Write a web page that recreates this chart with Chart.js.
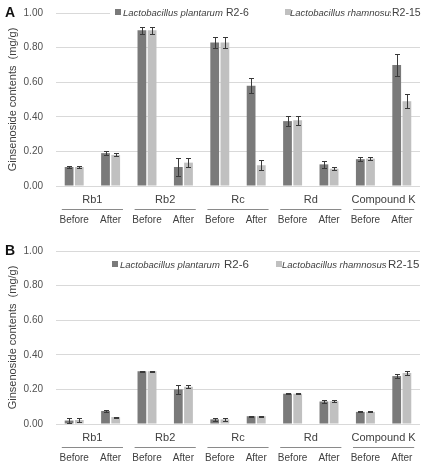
<!DOCTYPE html>
<html>
<head>
<meta charset="utf-8">
<script src="https://cdn.jsdelivr.net/npm/chart.js@4.4.1/dist/chart.umd.min.js"></script>
<style>
  body { margin: 0; background: #fff; font-family: "Liberation Sans", Arial, sans-serif; }
  .panel { position: absolute; left: 0; width: 437px; height: 226px; }
  .tag { position: absolute; left: 5px; top: 4px; font-weight: bold; font-size: 14px; color: #111; }
  .legend { position: absolute; height: 14px; background: #fff; color: #404040; white-space: nowrap; }
  .legend span { position: absolute; top: 0; line-height: 14px; }
  .legend i { font-style: italic; font-size: 9.5px; }
  .legend b { font-weight: normal; background: #fff; padding-left: 1px; }
  .sw { display: inline-block; width: 6px; height: 6px; margin-top: 4px; }
</style>
</head>
<body>
<div class="panel" id="pA" style="top:0">
  <canvas id="chartA" width="437" height="226"></canvas>
  <div class="tag">A</div>
  <div class="legend" style="left:110px; top:5px; width:315px; font-size:10.5px">
    <span class="sw" style="left:5px; background:#7a7a7a"></span>
    <span style="left:13px"><i>Lactobacillus plantarum</i></span>
    <span style="left:115px"><b>R2-6</b></span>
    <span class="sw" style="left:175px; background:#c0c0c0"></span>
    <span style="left:180px"><i>Lactobacillus rhamnosus</i></span>
    <span style="left:281px"><b>R2-15</b></span>
  </div>
</div>
<div class="panel" id="pB" style="top:238px">
  <canvas id="chartB" width="437" height="226"></canvas>
  <div class="tag">B</div>
  <div class="legend" style="left:108px; top:19px; width:318px; font-size:11.5px">
    <span class="sw" style="left:4px; background:#7a7a7a"></span>
    <span style="left:12px"><i>Lactobacillus plantarum</i></span>
    <span style="left:115px"><b>R2-6</b></span>
    <span class="sw" style="left:168px; background:#c0c0c0"></span>
    <span style="left:174px"><i>Lactobacillus rhamnosus</i></span>
    <span style="left:279px"><b>R2-15</b></span>
  </div>
</div>
<script>
// --- Data ---
const groupNames = ['Rb1', 'Rb2', 'Rc', 'Rd', 'Compound K'];
const phaseLabels = ['Before', 'After', 'Before', 'After', 'Before', 'After', 'Before', 'After', 'Before', 'After'];
const yTicks = [0, 0.2, 0.4, 0.6, 0.8, 1.0];

// Panel A
const plantarumA = [0.11, 0.19, 0.90, 0.11, 0.83, 0.58, 0.375, 0.125, 0.155, 0.70];
const plantarumErrA = [0.005, 0.01, 0.02, 0.05, 0.03, 0.045, 0.03, 0.02, 0.01, 0.065];
const rhamnosusA = [0.11, 0.18, 0.90, 0.135, 0.83, 0.12, 0.38, 0.10, 0.158, 0.49];
const rhamnosusErrA = [0.005, 0.008, 0.02, 0.025, 0.03, 0.03, 0.025, 0.01, 0.01, 0.04];

// Panel B
const plantarumB = [0.02, 0.075, 0.305, 0.20, 0.027, 0.045, 0.175, 0.13, 0.07, 0.277];
const plantarumErrB = [0.012, 0.007, 0.003, 0.025, 0.008, 0.003, 0.004, 0.01, 0.003, 0.01];
const rhamnosusB = [0.023, 0.04, 0.305, 0.215, 0.027, 0.045, 0.175, 0.132, 0.07, 0.295];
const rhamnosusErrB = [0.01, 0.003, 0.003, 0.008, 0.008, 0.003, 0.004, 0.005, 0.003, 0.01];

const DARK = '#7a7a7a';
const LIGHT = '#c0c0c0';
const FONT = '"Liberation Sans", Arial, sans-serif';

// --- Plugins ---
const errorBars = {
    id: 'errorBars',
    afterDatasetsDraw(chart) {
        const ctx = chart.ctx;
        const y = chart.scales.y;
        ctx.save();
        ctx.strokeStyle = '#3a3a3a';
        ctx.lineWidth = 1;
        chart.data.datasets.forEach((ds, di) => {
            const meta = chart.getDatasetMeta(di);
            meta.data.forEach((bar, i) => {
                const v = ds.data[i], e = ds.errors[i];
                const top = Math.round(y.getPixelForValue(v + e)) + 0.5;
                const bot = Math.round(y.getPixelForValue(Math.max(v - e, 0))) + 0.5;
                const x = Math.round(bar.x) + 0.5;
                ctx.beginPath();
                ctx.moveTo(x, top); ctx.lineTo(x, bot);
                ctx.moveTo(x - 2.5, top); ctx.lineTo(x + 2.5, top);
                ctx.moveTo(x - 2.5, bot); ctx.lineTo(x + 2.5, bot);
                ctx.stroke();
            });
        });
        ctx.restore();
    }
};

// short rules under each group name
const groupLines = {
    id: 'groupLines',
    afterDraw(chart) {
        const g = chart.scales.x2;
        const ctx = chart.ctx;
        const w = (g.right - g.left) / groupNames.length;
        const yy = Math.round(g.bottom) - 0.5;
        ctx.save();
        ctx.strokeStyle = '#8a8a8a';
        ctx.lineWidth = 1;
        groupNames.forEach((n, i) => {
            const c = g.getPixelForValue(i);
            ctx.beginPath();
            ctx.moveTo(c - w * 0.42, yy);
            ctx.lineTo(c + w * 0.42, yy);
            ctx.stroke();
        });
        ctx.restore();
    }
};

function makeChart(id, dark, darkErr, light, lightErr) {
    const ctx = document.getElementById(id).getContext('2d');
    return new Chart(ctx, {
        type: 'bar',
        data: {
            labels: phaseLabels,
            datasets: [
                { label: 'Lactobacillus plantarum R2-6', data: dark, errors: darkErr, backgroundColor: DARK,
                  categoryPercentage: 0.56, barPercentage: 0.86 },
                { label: 'Lactobacillus rhamnosus R2-15', data: light, errors: lightErr, backgroundColor: LIGHT,
                  categoryPercentage: 0.56, barPercentage: 0.86 }
            ]
        },
        options: {
            responsive: false,
            animation: false,
            devicePixelRatio: 1,
            layout: { padding: { top: 13, right: 17, left: 0, bottom: 0 } },
            plugins: { legend: { display: false }, tooltip: { enabled: false } },
            scales: {
                x: {
                    weight: 1,
                    grid: { display: false, drawTicks: false },
                    border: { display: false },
                    ticks: { color: '#404040', font: { family: FONT, size: 10 }, padding: 4, autoSkip: false, maxRotation: 0 },
                    afterFit: (s) => { s.height = 16; }
                },
                x2: {
                    type: 'category',
                    position: 'bottom',
                    weight: 0,
                    labels: groupNames,
                    offset: true,
                    grid: { display: false, drawTicks: false },
                    border: { display: false },
                    ticks: { color: '#404040', font: { family: FONT, size: 11 }, padding: 7, autoSkip: false, maxRotation: 0 },
                    afterFit: (s) => { s.height = 24; }
                },
                y: {
                    min: 0,
                    max: 1,
                    afterBuildTicks: (s) => { s.ticks = yTicks.map(v => ({ value: v })); },
                    grid: { color: '#d9d9d9', drawTicks: false },
                    border: { display: false },
                    ticks: { color: '#505050', font: { family: FONT, size: 10 }, padding: 13,
                             callback: (v) => Number(v).toFixed(2) },
                    title: { display: true, text: 'Ginsenoside contents  (mg/g)', color: '#404040',
                             font: { family: FONT, size: 11 }, padding: { top: 6, bottom: 0 } },
                    afterFit: (s) => { s.width = 56; s.paddingTop = 6; s.paddingBottom = 6; }
                }
            }
        },
        plugins: [errorBars, groupLines]
    });
}

makeChart('chartA', plantarumA, plantarumErrA, rhamnosusA, rhamnosusErrA);
makeChart('chartB', plantarumB, plantarumErrB, rhamnosusB, rhamnosusErrB);
</script>
</body>
</html>
